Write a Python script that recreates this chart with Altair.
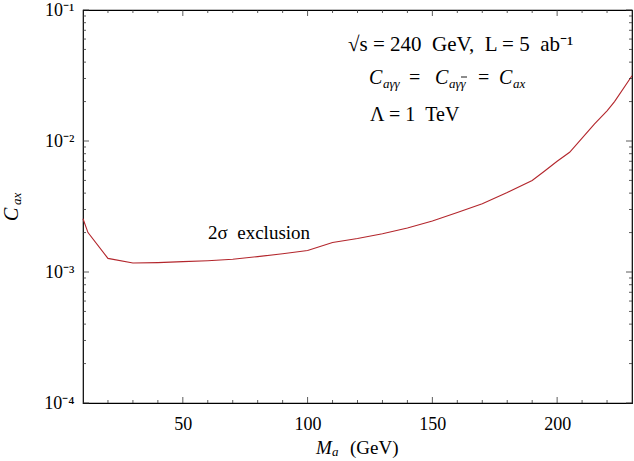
import altair as alt
import pandas as pd

# Exclusion curve: axion mass (GeV) vs. coupling C_ax
mass = [10, 12, 20, 30, 40, 50, 60, 70, 80, 90, 100, 110, 120, 130, 140,
        150, 160, 170, 180, 190, 195, 200, 205, 210, 215, 220, 223, 230]
coupling = [2.55e-3, 2.0e-3, 1.27e-3, 1.17e-3, 1.18e-3, 1.20e-3, 1.22e-3,
            1.25e-3, 1.31e-3, 1.38e-3, 1.46e-3, 1.68e-3, 1.80e-3, 1.96e-3,
            2.17e-3, 2.45e-3, 2.85e-3, 3.32e-3, 4.05e-3, 5.0e-3, 5.9e-3,
            7.0e-3, 8.2e-3, 1.05e-2, 1.35e-2, 1.7e-2, 2.0e-2, 3.15e-2]

x_major = [50, 100, 150, 200]
x_minor = [20, 30, 40, 60, 70, 80, 90, 110, 120, 130, 140, 160, 170, 180,
           190, 210, 220]
y_major = [1e-4, 1e-3, 1e-2, 1e-1]
y_minor = [m * 10.0 ** e for e in (-4, -3, -2) for m in range(2, 10)]

W, H = 549, 393
OX, OY = 83, 10          # plot origin inside the page
FONT = "Liberation Serif"
RED = "#b3262c"
SP = "\u00a0"            # non-breaking space keeps the wide gaps between words

xs = alt.Scale(domain=[10, 230], nice=False, zero=False)
ys = alt.Scale(type="log", domain=[1e-4, 1e-1], nice=False)

curve = alt.Chart(pd.DataFrame({"m": mass, "c": coupling})).mark_line(
    color=RED, strokeWidth=1.1
).encode(
    x=alt.X("m:Q", scale=xs, axis=alt.Axis(
        values=x_major, ticks=False, domain=False, grid=False, title="",
        labelFont=FONT, labelFontSize=18, labelColor="black", labelPadding=12)),
    y=alt.Y("c:Q", scale=ys, axis=alt.Axis(
        values=y_major, ticks=False, domain=False, grid=False, title="",
        labelExpr="{'0.0001':'10⁻⁴','0.001':'10⁻³','0.01':'10⁻²','0.1':'10⁻¹'}[''+datum.value]",
        labelFont=FONT, labelFontSize=18, labelColor="black", labelPadding=9)),
)


def xticks(vals, size):
    d = pd.DataFrame({"m": vals})
    bottom = alt.Chart(d).mark_rule(color="#333", strokeWidth=0.8).encode(
        x=alt.X("m:Q", scale=xs), y=alt.value(H), y2=alt.value(H - size))
    top = alt.Chart(d).mark_rule(color="#333", strokeWidth=0.8).encode(
        x=alt.X("m:Q", scale=xs), y=alt.value(0), y2=alt.value(size))
    return [bottom, top]


def yticks(vals, size):
    d = pd.DataFrame({"c": vals})
    left = alt.Chart(d).mark_rule(color="#333", strokeWidth=0.8).encode(
        y=alt.Y("c:Q", scale=ys), x=alt.value(0), x2=alt.value(size))
    right = alt.Chart(d).mark_rule(color="#333", strokeWidth=0.8).encode(
        y=alt.Y("c:Q", scale=ys), x=alt.value(W), x2=alt.value(W - size))
    return [left, right]


def text(t, x, y, size=20, style="normal", angle=0):
    """Text placed at page coordinates (x, y), left-aligned, vertically centred."""
    return alt.Chart(pd.DataFrame({"t": [t]})).mark_text(
        font=FONT, fontSize=size, fontStyle=style, align="left",
        baseline="middle", color="black", angle=angle
    ).encode(text="t:N", x=alt.value(x - OX), y=alt.value(y - OY))


def bar(x1, x2, y):
    """Short horizontal stroke (the bar over a conjugate photon)."""
    return alt.Chart(pd.DataFrame({"k": [0]})).mark_rule(
        color="black", strokeWidth=0.9
    ).encode(x=alt.value(x1 - OX), x2=alt.value(x2 - OX), y=alt.value(y - OY))


ticks = (xticks(x_major, 6) + xticks(x_minor, 3)
         + yticks(y_major, 6) + yticks(y_minor, 3))

notes = [
    text(f"√s = 240{SP}{SP}GeV,{SP}{SP}L = 5{SP}{SP}ab⁻¹", 348, 45, size=21),
    # C_aγγ = C_aγγ̄ = C_ax
    text("C", 369, 78, style="italic"),
    text("aγγ", 383, 84, size=13, style="italic"),
    text("=", 409, 78),
    text("C", 435, 78, style="italic"),
    text("aγγ", 449, 84, size=13, style="italic"),
    bar(461, 467, 77),
    text("=", 478, 78),
    text("C", 499, 78, style="italic"),
    text("ax", 513, 84, size=13, style="italic"),
    text(f"Λ = 1{SP}{SP}TeV", 370, 115),
    text(f"2σ{SP}{SP}exclusion", 208, 233, size=19),
    # axis titles
    text("M", 316, 448, size=19, style="italic"),
    text("a", 332, 452, size=13, style="italic"),
    text("(GeV)", 350, 448, size=19),
    text("C", 12, 221, size=20, style="italic", angle=270),
    text("ax", 17, 205, size=13, style="italic", angle=270),
]

chart = alt.layer(curve, *ticks, *notes).properties(
    width=W, height=H,
    autosize=alt.AutoSizeParams(type="none"),
    padding={"left": OX, "top": OY, "right": 2, "bottom": 58},
    background="white",
).configure_view(stroke="black", strokeWidth=1.2)

chart.save("out.html", embed_options={"renderer": "svg", "actions": False})
